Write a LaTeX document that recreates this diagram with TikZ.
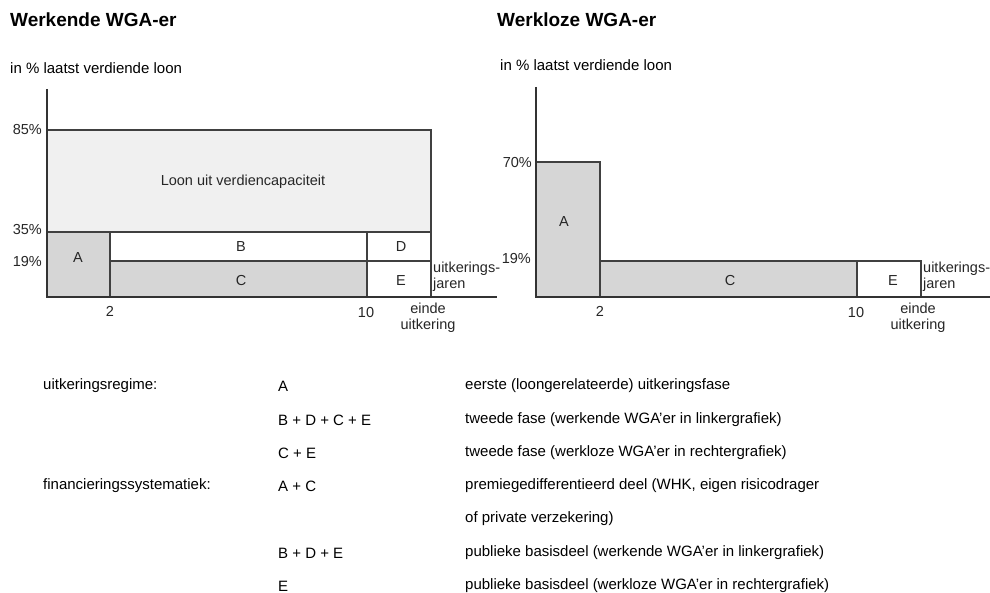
\documentclass[tikz,border=0pt]{standalone}
\usepackage{fontspec}
\setmainfont{Liberation Sans}
\begin{document}
\begin{tikzpicture}[x=1pt, y=-1pt,
    title/.style={font=\fontsize{19}{21}\selectfont\bfseries, anchor=west, inner sep=0pt},
    unit/.style={font=\fontsize{15}{17}\selectfont, anchor=west, inner sep=0pt},
    lbl/.style={font=\fontsize{14.5}{16}\selectfont, inner sep=0pt, text=black!85},
    leg/.style={font=\fontsize{15}{17}\selectfont, anchor=west, inner sep=0pt},
    part/.style={draw=black!75, line width=1.2pt},
    axis/.style={draw=black!80, line width=1.6pt}]
    \useasboundingbox (0,0) rectangle (990,593);

    % Werkende WGA-er
    \node[title] (t1) at (10,20) {Werkende WGA-er};
    \node[unit] (u1) at (10,68) {in \% laatst verdiende loon};
    \draw[part, fill=black!6] (47,130) rectangle (431,232);
    \draw[part, fill=black!16] (47,232) rectangle (110,297);
    \draw[part, fill=white] (110,232) rectangle (367,261);
    \draw[part, fill=black!16] (110,261) rectangle (367,297);
    \draw[part, fill=white] (367,232) rectangle (431,261);
    \draw[part, fill=white] (367,261) rectangle (431,297);
    \coordinate (top1) at (47,89);
    \coordinate (org1) at (47,297);
    \coordinate (end1) at (497,297);
    \draw[axis] (top1) -- (org1) -- (end1);
    \node[lbl] (loon) at (243,182) {Loon uit verdiencapaciteit};
    \node[lbl] (a1) at (78,258) {A};
    \node[lbl] (b1) at (241,247) {B};
    \node[lbl] (c1) at (241,281) {C};
    \node[lbl] (d1) at (401,247) {D};
    \node[lbl] (e1) at (401,281) {E};
    \node[lbl, anchor=east] (p85) at (42,130) {85\%};
    \node[lbl, anchor=east] (p35) at (42,230) {35\%};
    \node[lbl, anchor=east] (p19a) at (42,262) {19\%};
    \node[lbl] (x2a) at (110,311) {2};
    \node[lbl] (x10a) at (366,313) {10};
    \node[lbl, align=center] (eind1) at (428,318) {einde\\uitkering};
    \node[lbl, anchor=west, align=left] (jr1) at (433,277) {uitkerings-\\jaren};

    % Werkloze WGA-er
    \node[title] (t2) at (497,20) {Werkloze WGA-er};
    \node[unit] (u2) at (500,65) {in \% laatst verdiende loon};
    \draw[part, fill=black!16] (536,162) rectangle (600,297);
    \draw[part, fill=black!16] (600,261) rectangle (857,297);
    \draw[part, fill=white] (857,261) rectangle (921,297);
    \coordinate (top2) at (536,87);
    \coordinate (org2) at (536,297);
    \coordinate (end2) at (990,297);
    \draw[axis] (top2) -- (org2) -- (end2);
    \node[lbl] (a2) at (564,222) {A};
    \node[lbl] (c2) at (730,281) {C};
    \node[lbl] (e2) at (893,281) {E};
    \node[lbl, anchor=east] (p70) at (532,163) {70\%};
    \node[lbl, anchor=east] (p19b) at (531,259) {19\%};
    \node[lbl] (x2b) at (600,311) {2};
    \node[lbl] (x10b) at (856,313) {10};
    \node[lbl, align=center] (eind2) at (918,318) {einde\\uitkering};
    \node[lbl, anchor=west, align=left] (jr2) at (923,277) {uitkerings-\\jaren};

    % Legenda
    \node[leg] (r1a) at (43,386) {uitkeringsregime:};
    \node[leg] (r1b) at (278,386) {A};
    \node[leg] (r1c) at (465,386) {eerste (loongerelateerde) uitkeringsfase};
    \node[leg] (r2b) at (278,420) {B + D + C + E};
    \node[leg] (r2c) at (465,420) {tweede fase (werkende WGA'er in linkergrafiek)};
    \node[leg] (r3b) at (278,453) {C + E};
    \node[leg] (r3c) at (465,453) {tweede fase (werkloze WGA'er in rechtergrafiek)};
    \node[leg] (r4a) at (43,486) {financieringssystematiek:};
    \node[leg] (r4b) at (278,486) {A + C};
    \node[leg] (r4c) at (465,486) {premiegedifferentieerd deel (WHK, eigen risicodrager};
    \node[leg] (r5c) at (465,519) {of private verzekering)};
    \node[leg] (r6b) at (278,553) {B + D + E};
    \node[leg] (r6c) at (465,553) {publieke basisdeel (werkende WGA'er in linkergrafiek)};
    \node[leg] (r7b) at (278,586) {E};
    \node[leg] (r7c) at (465,586) {publieke basisdeel (werkloze WGA'er in rechtergrafiek)};
\end{tikzpicture}
\end{document}
